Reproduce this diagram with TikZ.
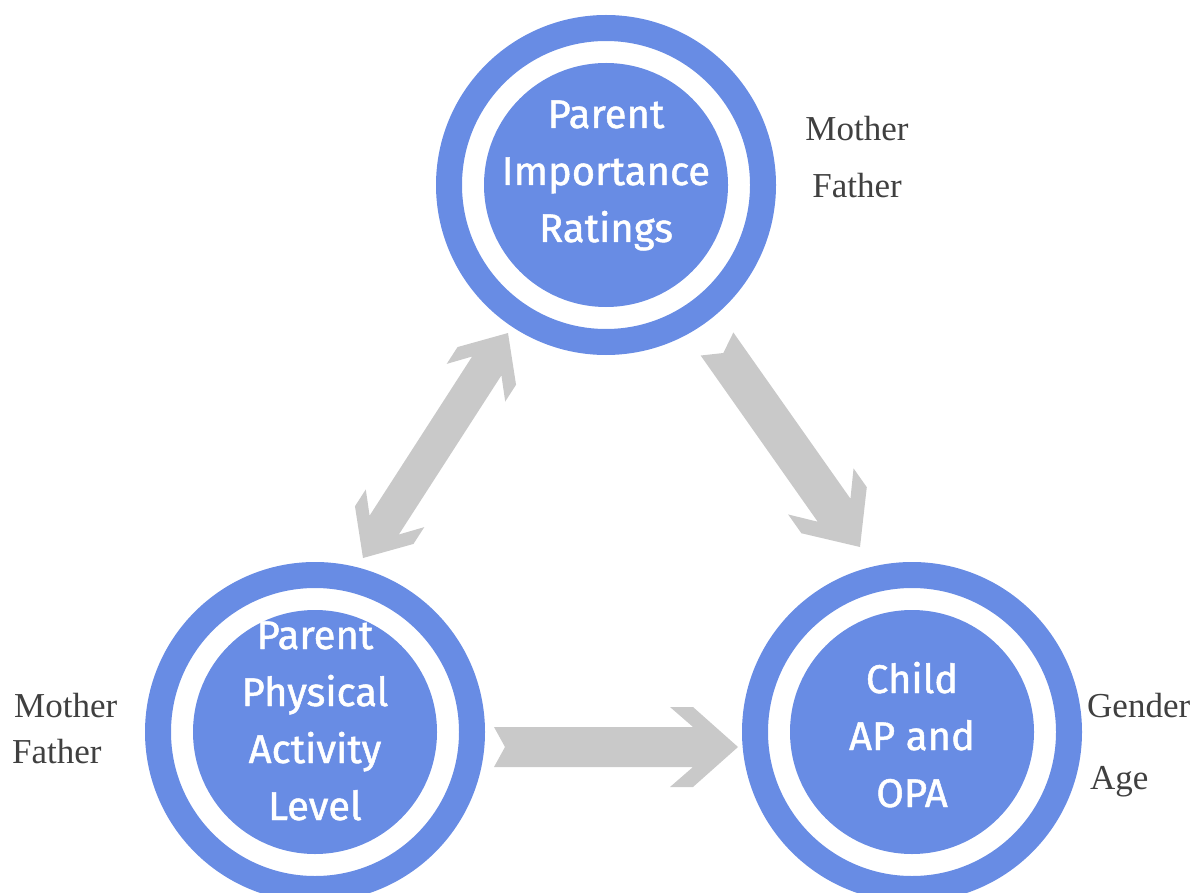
\documentclass[tikz,border=0pt]{standalone}
\usepackage{fontspec}
\setmainfont{Liberation Serif}
\newfontfamily\circfont[FakeBold=1.2]{Fira Sans}
\usetikzlibrary{calc}

\definecolor{ringblue}{RGB}{104,140,228}
\definecolor{arrowgray}{RGB}{201,201,201}
\definecolor{labelgray}{RGB}{64,64,64}

\tikzset{
  disk/.style={circle, fill=ringblue, minimum size=244pt, inner sep=0pt},
  ring/.style={draw=ringblue, line width=26pt},
  disktext/.style={text=white, font=\circfont\fontsize{40}{57}\selectfont,
                   align=center, anchor=base, inner sep=0pt},
  sidelabel/.style={text=labelgray, font=\fontsize{35}{40}\selectfont, inner sep=0pt},
}

% one-headed block arrow with notched tail: #1 tail, #2 tip, #3 scale
\newcommand\blockarrow[3]{%
  \fill[arrowgray] let \p1=($(#2)-(#1)$), \n1={veclen(\x1,\y1)/#3},
    \n2={atan2(\y1,\x1)} in [shift={(#1)}, rotate=\n2, scale=#3]
    (0,20) -- ({\n1-45},20) -- ({\n1-68},40) -- ({\n1-45},40) -- ({\n1},0)
    -- ({\n1-45},-40) -- ({\n1-68},-40) -- ({\n1-45},-20) -- (0,-20)
    -- (11,0) -- cycle;}

% two-headed block arrow: #1 first tip, #2 second tip, #3 scale
\newcommand\twowayarrow[3]{%
  \fill[arrowgray] let \p1=($(#2)-(#1)$), \n1={veclen(\x1,\y1)/#3},
    \n2={atan2(\y1,\x1)} in [shift={(#1)}, rotate=\n2, scale=#3]
    (0,0) -- (45,40) -- (68,40) -- (45,20) -- ({\n1-45},20) -- ({\n1-68},40)
    -- ({\n1-45},40) -- ({\n1},0) -- ({\n1-45},-40) -- ({\n1-68},-40)
    -- ({\n1-45},-20) -- (45,-20) -- (68,-40) -- (45,-40) -- cycle;}

\begin{document}
\begin{tikzpicture}[x=1pt, y=1pt]
  \useasboundingbox (0,0) rectangle (1196,-893);
  \clip (0,0) rectangle (1196,-893);

  % arrow end points
  \coordinate (pairA) at (363,-558);
  \coordinate (pairB) at (508,-333);
  \coordinate (diagTail) at (717,-344);
  \coordinate (diagTip) at (860,-547);
  \coordinate (horzTail) at (494,-747);
  \coordinate (horzTip) at (738,-747);

  \twowayarrow{pairA}{pairB}{0.87}
  \blockarrow{diagTail}{diagTip}{1}
  \blockarrow{horzTail}{horzTip}{1}

  % the three ringed circles
  \node[disk] (rating) at (606,-185) {};
  \draw[ring] (rating.center) circle[radius=157];
  \node[disk] (parentpa) at (315,-732) {};
  \draw[ring] (parentpa.center) circle[radius=157];
  \node[disk] (child) at (912,-732) {};
  \draw[ring] (child.center) circle[radius=157];

  % circle texts, placed by the baseline of their last line
  \node[disktext] (ratingT) at (606,-242) {Parent\\Importance\\Ratings};
  \node[disktext] (parentpaT) at (315,-820) {Parent\\Physical\\Activity\\Level};
  \node[disktext] (childT) at (912,-807) {Child\\AP and\\OPA};

  % side labels
  \node[sidelabel, anchor=base] (motherTop) at (857,-141) {Mother};
  \node[sidelabel, anchor=base] (fatherTop) at (857,-198) {Father};
  \node[sidelabel, anchor=base west] (motherLeft) at (14,-717) {Mother};
  \node[sidelabel, anchor=base west] (fatherLeft) at (12,-763) {Father};
  \node[sidelabel, anchor=base west] (gender) at (1087,-717) {Gender};
  \node[sidelabel, anchor=base west] (age) at (1090,-789) {Age};
\end{tikzpicture}
\end{document}
